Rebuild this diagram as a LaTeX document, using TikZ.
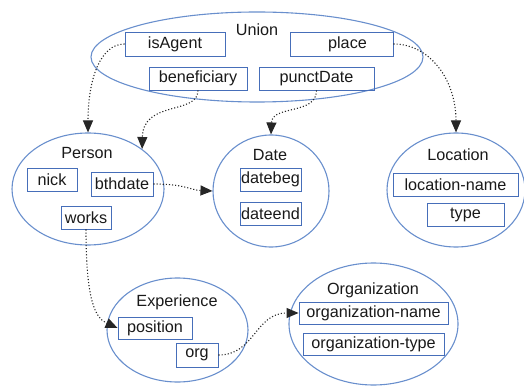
\documentclass[tikz,border=0pt]{standalone}
\usepackage{fontspec}
\setmainfont{Liberation Sans}
\usetikzlibrary{shapes.geometric,arrows.meta}
\definecolor{ellcol}{RGB}{105,143,205}
\definecolor{boxcol}{RGB}{70,110,185}
\definecolor{txtcol}{RGB}{25,25,25}
\tikzset{
  ell/.style={draw=ellcol,line width=1.1pt,ellipse,inner sep=0pt},
  fld/.style={draw=boxcol,line width=0.9pt,rectangle,inner sep=0pt,minimum height=23pt,text=txtcol,font=\fontsize{16.2}{19}\selectfont},
  ttl/.style={inner sep=0pt,text=txtcol,font=\fontsize{16.2}{19}\selectfont},
  conn/.style={dotted,line width=1.1pt,draw=black!85,-{Triangle[length=12pt,width=10pt]}}
}
\begin{document}
\begin{tikzpicture}[x=1pt,y=-1pt]
\useasboundingbox (0,0) rectangle (524,387);
% ellipses
\node[ell,minimum width=332pt,minimum height=90pt] (union) at (257,57) {};
\node[ell,minimum width=152pt,minimum height=112pt] (person) at (88,189) {};
\node[ell,minimum width=116pt,minimum height=112pt] (date) at (271,191) {};
\node[ell,minimum width=138pt,minimum height=114pt] (location) at (456,190) {};
\node[ell,minimum width=141pt,minimum height=104pt] (experience) at (177.5,330) {};
\node[ell,minimum width=169pt,minimum height=122pt] (organization) at (373.5,324) {};
% titles
\node[ttl] (tunion) at (257,30) {Union};
\node[ttl] (tperson) at (87,153) {Person};
\node[ttl] (tdate) at (270,155) {Date};
\node[ttl] (tlocation) at (458,155) {Location};
\node[ttl] (texperience) at (177,302) {Experience};
\node[ttl] (torganization) at (373,290) {Organization};
% fields
\node[fld,minimum width=100pt,minimum height=24pt] (isAgent) at (175,44) {isAgent};
\node[fld,minimum width=103pt,minimum height=24pt] (place) at (341.5,44) {\hspace*{12pt}place};
\node[fld,minimum width=98pt] (beneficiary) at (198,78.5) {beneficiary};
\node[fld,minimum width=115pt] (punctDate) at (316.5,78.5) {punctDate};
\node[fld,minimum width=50pt] (nick) at (52,179.5) {nick};
\node[fld,minimum width=62pt,minimum height=24pt] (bthdate) at (122,184) {bthdate};
\node[fld,minimum width=50pt] (works) at (86,217.5) {works};
\node[fld,minimum width=61pt] (datebeg) at (270.5,179.5) {datebeg};
\node[fld,minimum width=61pt] (dateend) at (270.5,213.5) {dateend};
\node[fld,minimum width=125pt] (locname) at (455.5,184.5) {location-name};
\node[fld,minimum width=77pt] (type) at (465.5,214.5) {type};
\node[fld,minimum width=74pt,minimum height=22pt] (position) at (155,328) {position};
\node[fld,minimum width=42pt,minimum height=24pt] (org) at (197,355) {org};
\node[fld,minimum width=149pt,minimum height=22pt] (orgname) at (373.5,313) {organization-name};
\node[fld,minimum width=141pt,minimum height=22pt] (orgtype) at (373.5,344) {organization-type};
% connectors
\draw[conn] (isAgent.west) .. controls (100,44) and (88,80) .. (person.north);
\draw[conn] (beneficiary.south) .. controls (198,115) and (143,100) .. (person.north east);
\draw[conn] (punctDate.south) .. controls (316.5,115) and (272,105) .. (date.north);
\draw[conn] (place.east) .. controls (430,44) and (456,80) .. (location.north);
\draw[conn] (bthdate.east) .. controls (185,184) and (190,190) .. (date.west);
\draw[conn] (works.south) .. controls (86,300) and (95,318) .. (position.west);
\draw[conn] (org.east) .. controls (255,355) and (255,313) .. (orgname.west);
\end{tikzpicture}
\end{document}
